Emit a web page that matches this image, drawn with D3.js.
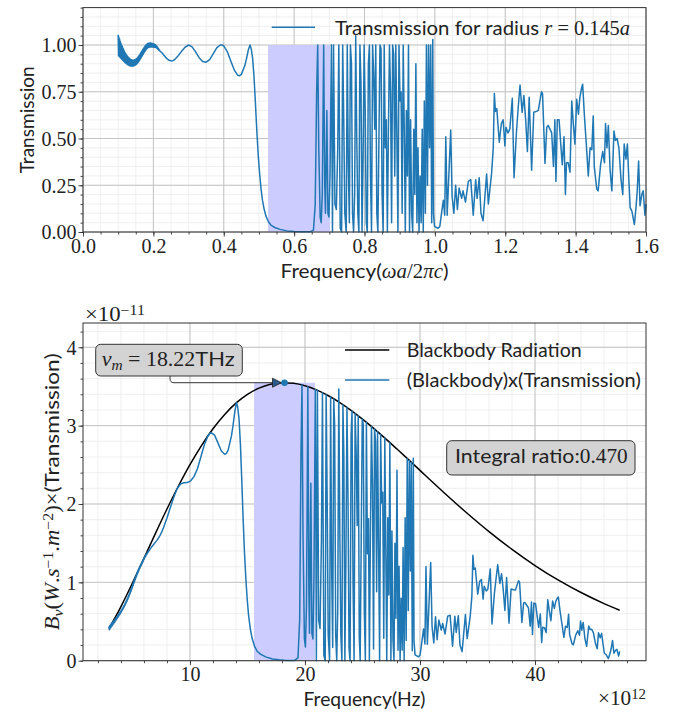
<!DOCTYPE html>
<html><head><meta charset="utf-8">
<script src="https://cdn.jsdelivr.net/npm/d3@7"></script>
<style>body{margin:0;background:#fff}svg{display:block}</style>
</head><body>
<svg id="c" width="673" height="712"></svg>
<script>
// ---------- DATA ----------
// top panel: transmission vs normalised frequency (omega a / 2 pi c)
const transmission = [
[0.100,1.055],[0.101,0.943],[0.102,1.043],[0.103,0.938],[0.104,1.032],[0.105,0.934],[0.106,1.020],[0.107,0.930],[0.108,1.010],[0.109,0.926],[0.110,1.000],[0.111,0.922],[0.112,0.992],[0.113,0.918],[0.114,0.982],[0.115,0.914],[0.116,0.974],[0.117,0.910],[0.118,0.967],[0.119,0.907],[0.120,0.959],[0.121,0.904],[0.122,0.953],[0.123,0.900],[0.124,0.947],[0.125,0.898],[0.126,0.941],[0.127,0.895],[0.128,0.937],[0.129,0.893],[0.130,0.932],[0.131,0.891],[0.132,0.929],[0.133,0.889],[0.134,0.925],[0.135,0.888],[0.136,0.923],[0.137,0.888],[0.138,0.921],[0.139,0.888],[0.140,0.919],[0.141,0.887],[0.142,0.919],[0.143,0.888],[0.144,0.919],[0.145,0.889],[0.146,0.920],[0.147,0.891],[0.148,0.922],[0.149,0.893],[0.150,0.924],[0.151,0.896],[0.152,0.928],[0.153,0.899],[0.154,0.931],[0.155,0.903],[0.156,0.936],[0.157,0.908],[0.158,0.941],[0.159,0.913],[0.160,0.946],[0.161,0.919],[0.162,0.952],[0.163,0.925],[0.164,0.958],[0.165,0.931],[0.166,0.964],[0.167,0.937],[0.168,0.971],[0.169,0.944],[0.170,0.977],[0.171,0.950],[0.172,0.983],[0.173,0.957],[0.174,0.988],[0.175,0.963],[0.176,0.994],[0.177,0.968],[0.178,0.998],[0.179,0.974],[0.180,1.003],[0.181,0.979],[0.182,1.006],[0.183,0.983],[0.184,1.008],[0.185,0.986],[0.186,1.010],[0.187,0.987],[0.188,1.010],[0.189,0.989],[0.190,1.011],[0.191,0.989],[0.192,1.011],[0.193,0.989],[0.194,1.009],[0.195,0.989],[0.196,1.009],[0.197,0.989],[0.198,1.007],[0.199,0.989],[0.200,1.007],[0.201,0.988],[0.202,1.005],[0.203,0.988],[0.204,1.003],[0.205,0.988],[0.206,1.001],[0.207,0.986],[0.208,0.997],[0.209,0.984],[0.210,0.993],[0.211,0.981],[0.212,0.988],[0.213,0.977],[0.214,0.982],[0.215,0.974],[0.216,0.978],[0.217,0.970],[0.218,0.972],[0.219,0.966],[0.220,0.965],
[0.225,0.957],[0.23,0.945],[0.235,0.934],[0.24,0.925],[0.245,0.918],[0.25,0.915],[0.255,0.916],[0.26,0.921],[0.27,0.941],[0.28,0.966],[0.29,0.988],[0.30,1.0],[0.31,0.99],[0.32,0.963],[0.33,0.932],[0.34,0.912],[0.35,0.908],[0.36,0.922],[0.37,0.952],[0.38,0.985],[0.39,1.0],[0.395,1.0],[0.40,0.995],[0.41,0.965],[0.42,0.915],[0.43,0.866],[0.44,0.838],[0.445,0.836],[0.45,0.843],[0.46,0.89],[0.465,0.93],[0.47,0.975],[0.4746,1.0],[0.478,0.98],[0.482,0.93],[0.486,0.83],[0.49,0.69],[0.494,0.54],[0.498,0.41],[0.502,0.31],[0.506,0.23],[0.51,0.17],[0.515,0.12],[0.52,0.085],[0.527,0.055],[0.535,0.035],[0.545,0.024],[0.56,0.014],[0.58,0.006],[0.6,0.003],[0.62,0.001],[0.645,0.001],[0.655,0.01],
[0.660,0.15],[0.664,0.75],[0.667,1.0],[0.670,0.45],[0.674,0.08],[0.677,0.05],[0.680,0.2],[0.684,1.0],[0.687,0.25],[0.689,0.1],[0.693,0.65],[0.696,0.1],[0.699,0.08],[0.702,0.3],[0.706,1.0],[0.709,0.0],[0.712,1.0],[0.716,0.15],[0.720,0.12],[0.724,0.45],[0.727,1.0],[0.731,0.02],[0.735,0.0],[0.738,1.0],[0.741,0.6],[0.744,0.1],[0.748,0.0],[0.751,1.0],[0.754,0.35],[0.757,0.05],[0.760,1.0],[0.763,0.9],[0.766,0.1],[0.769,0.0],[0.772,0.2],[0.775,1.05],[0.778,0.5],[0.781,0.1],[0.784,0.0],[0.787,1.0],[0.790,0.8],[0.793,0.0],[0.796,0.4],[0.799,1.0],[0.802,0.65],[0.805,0.05],[0.808,0.0],[0.811,0.9],[0.814,1.0],[0.817,0.3],[0.820,0.0],[0.823,1.0],[0.826,0.85],[0.829,0.55],[0.832,1.0],[0.835,0.1],[0.838,0.0],[0.841,0.5],[0.844,1.0],[0.847,0.98],[0.850,0.2],[0.853,0.0],[0.856,1.0],[0.859,0.45],[0.862,0.6],[0.865,0.0],[0.868,0.55],[0.871,1.0],[0.874,0.75],[0.877,0.05],[0.880,1.0],[0.883,0.95],[0.886,0.3],[0.889,1.0],[0.892,0.5],[0.895,0.0],[0.898,1.0],[0.901,0.7],[0.904,0.75],[0.907,0.1],[0.910,1.0],[0.913,0.55],[0.916,0.0],[0.919,0.65],[0.922,0.3],[0.925,1.0],[0.928,0.0],[0.931,0.6],[0.934,0.1],[0.937,0.0],[0.940,0.55],[0.943,0.2],[0.946,0.9],[0.949,0.05],[0.952,0.45],[0.955,0.0],[0.958,0.3],[0.961,0.05],[0.964,0.55],[0.967,0.0],[0.970,0.7],[0.973,0.1],[0.976,1.0],[0.979,0.25],[0.982,1.0],[0.985,0.45],[0.988,1.0],[0.991,0.05],[0.994,1.03],[0.996,0.1],[0.999,0.03],
[1.009,0.02],[1.014,0.03],[1.024,0.17],[1.028,0.09],[1.031,0.51],[1.035,0.09],[1.045,0.545],[1.049,0.19],[1.054,0.1],[1.059,0.25],[1.064,0.12],[1.069,0.235],[1.076,0.18],[1.080,0.22],[1.087,0.16],[1.095,0.27],[1.102,0.28],[1.109,0.09],[1.116,0.28],[1.120,0.18],[1.126,0.29],[1.131,0.1],[1.137,0.06],[1.147,0.31],[1.152,0.15],[1.161,0.31],[1.166,0.45],[1.169,0.74],[1.172,0.645],[1.176,0.66],[1.183,0.48],[1.189,0.58],[1.194,0.6],[1.199,0.46],[1.202,0.56],[1.208,0.53],[1.213,0.55],[1.220,0.715],[1.225,0.29],[1.232,0.54],[1.237,0.67],[1.242,0.786],[1.248,0.64],[1.253,0.73],[1.258,0.6],[1.263,0.43],[1.268,0.72],[1.275,0.33],[1.281,0.64],[1.289,0.645],[1.294,0.65],[1.299,0.706],[1.303,0.75],[1.306,0.74],[1.313,0.367],[1.318,0.56],[1.322,0.57],[1.327,0.55],[1.332,0.53],[1.337,0.35],[1.341,0.6],[1.344,0.27],[1.348,0.6],[1.353,0.6],[1.357,0.49],[1.362,0.36],[1.367,0.51],[1.371,0.2],[1.374,0.37],[1.379,0.37],[1.384,0.32],[1.389,0.7],[1.393,0.59],[1.398,0.47],[1.403,0.71],[1.408,0.63],[1.412,0.72],[1.417,0.77],[1.420,0.79],[1.425,0.62],[1.431,0.45],[1.436,0.3],[1.441,0.45],[1.446,0.44],[1.450,0.62],[1.453,0.35],[1.460,0.23],[1.464,0.22],[1.471,0.36],[1.477,0.43],[1.482,0.37],[1.485,0.58],[1.489,0.45],[1.493,0.57],[1.498,0.33],[1.503,0.22],[1.509,0.54],[1.513,0.49],[1.518,0.5],[1.523,0.45],[1.529,0.28],[1.534,0.2],[1.538,0.47],[1.543,0.39],[1.547,0.47],[1.551,0.29],[1.555,0.13],[1.560,0.11],[1.567,0.04],[1.572,0.14],[1.575,0.22],[1.579,0.38],[1.583,0.14],[1.588,0.2],[1.592,0.22],[1.597,0.09],[1.600,0.15]
];
// bottom panel: blackbody spectral radiance (units of 1e-11) vs frequency in THz
const blackbody = [
[2.96,0.413],[3,0.423],[3.5,0.552],[4,0.691],[4.5,0.838],[5,0.991],[5.5,1.148],[6,1.306],[6.5,1.466],[7,1.625],[8,1.936],[9,2.230],[10,2.502],[11,2.746],[12,2.960],[13,3.140],[14,3.287],[15,3.399],[16,3.479],[17,3.529],[18,3.549],[19,3.541],[20,3.510],[21,3.457],[22,3.385],[23,3.298],[24,3.196],[25,3.083],[26,2.962],[27,2.834],[28,2.701],[29,2.566],[30,2.429],[32,2.157],[34,1.895],[36,1.648],[38,1.421],[40,1.215],[42,1.031],[44,0.870],[46,0.729],[47.36,0.644]
];
// bottom panel: blackbody x transmission (units of 1e-11) vs frequency in THz
const transmitted = [
[2.960,0.436],[2.990,0.396],[3.019,0.446],[3.049,0.409],[3.078,0.457],[3.108,0.421],[3.138,0.467],[3.167,0.433],[3.197,0.479],[3.226,0.445],[3.256,0.489],[3.286,0.458],[3.315,0.500],[3.345,0.470],[3.374,0.510],[3.404,0.482],[3.434,0.521],[3.463,0.493],[3.493,0.532],[3.522,0.506],[3.552,0.543],[3.582,0.520],[3.611,0.556],[3.641,0.532],[3.670,0.567],[3.700,0.546],[3.730,0.580],[3.759,0.558],[3.789,0.592],[3.818,0.572],[3.848,0.605],[3.878,0.585],[3.907,0.618],[3.937,0.598],[3.966,0.631],[3.996,0.613],[4.026,0.645],[4.055,0.628],[4.085,0.659],[4.114,0.644],[4.144,0.674],[4.174,0.658],[4.203,0.690],[4.233,0.675],[4.262,0.706],[4.292,0.691],[4.322,0.723],[4.351,0.708],[4.381,0.740],[4.410,0.725],[4.440,0.759],[4.470,0.744],[4.499,0.778],[4.529,0.761],[4.558,0.797],[4.588,0.781],[4.618,0.818],[4.647,0.802],[4.677,0.839],[4.706,0.823],[4.736,0.861],[4.766,0.845],[4.795,0.883],[4.825,0.867],[4.854,0.906],[4.884,0.889],[4.914,0.929],[4.943,0.912],[4.973,0.954],[5.002,0.936],[5.032,0.978],[5.062,0.960],[5.091,1.002],[5.121,0.985],[5.150,1.026],[5.180,1.008],[5.210,1.051],[5.239,1.032],[5.269,1.073],[5.298,1.056],[5.328,1.097],[5.358,1.080],[5.387,1.119],[5.417,1.103],[5.446,1.140],[5.476,1.124],[5.506,1.162],[5.535,1.144],[5.565,1.180],[5.594,1.165],[5.624,1.200],[5.654,1.183],[5.683,1.219],[5.713,1.202],[5.742,1.235],[5.772,1.220],[5.802,1.254],[5.831,1.238],[5.861,1.271],[5.890,1.257],[5.920,1.290],[5.950,1.275],[5.979,1.305],[6.009,1.293],[6.038,1.322],[6.068,1.312],[6.098,1.338],[6.127,1.327],[6.157,1.352],[6.186,1.343],[6.216,1.365],[6.246,1.358],[6.275,1.376],[6.305,1.371],[6.334,1.387],[6.364,1.385],[6.394,1.400],[6.423,1.398],[6.453,1.409],[6.482,1.410],[6.512,1.418],
[6.66,1.452],[6.808,1.478],[6.956,1.505],[7.104,1.533],[7.252,1.563],[7.40,1.600],[7.548,1.644],[7.696,1.696],[7.992,1.819],[8.288,1.952],[8.584,2.083],[8.88,2.195],[9.176,2.255],[9.472,2.271],[9.768,2.273],[10.064,2.296],[10.36,2.352],[10.656,2.454],[10.952,2.603],[11.248,2.757],[11.544,2.862],[11.692,2.894],[11.84,2.911],[12.136,2.880],[12.432,2.780],[12.728,2.677],[13.024,2.634],[13.172,2.646],[13.32,2.687],[13.616,2.875],[13.764,3.024],[13.912,3.192],[14.048,3.294],[14.149,3.238],[14.267,3.085],[14.386,2.764],[14.504,2.307],[14.622,1.813],[14.741,1.382],[14.859,1.049],[14.978,0.781],[15.096,0.579],[15.244,0.410],[15.392,0.292],[15.60,0.190],[15.836,0.121],[16.13,0.084],[16.58,0.049],[17.17,0.021],[17.76,0.011],[18.35,0.004],[19.09,0.004],[19.39,0.035],
[19.54,0.529],[19.65,2.64],[19.74,3.518],[19.83,1.582],[19.95,0.281],[20.04,0.175],[20.13,0.701],[20.25,3.497],[20.34,0.873],[20.39,0.349],[20.51,2.264],[20.60,0.348],[20.69,0.278],[20.78,1.041],[20.90,3.462],[20.99,0.0],[21.08,3.451],[21.19,0.516],[21.31,0.412],[21.43,1.542],[21.52,3.42],[21.64,0.068],[21.76,0.0],[21.84,3.396],[21.93,2.034],[22.02,0.338],[22.14,0.0],[22.23,3.365],[22.32,1.175],[22.41,0.167],[22.50,3.341],[22.58,3.001],[22.67,0.333],[22.76,0.0],[22.85,0.662],[22.94,3.468],[23.03,1.648],[23.12,0.329],[23.21,0.0],[23.30,3.268],[23.38,2.607],[23.47,0.0],[23.56,1.296],[23.65,3.232],[23.74,2.094],[23.83,0.161],[23.92,0.0],[24.01,2.876],[24.09,3.186],[24.18,0.953],[24.27,0.0],[24.36,3.156],[24.45,2.673],[24.54,1.724],[24.63,3.125],[24.72,0.312],[24.80,0.0],[24.89,1.548],[24.98,3.085],[25.07,3.014],[25.16,0.613],[25.25,0.0],[25.34,3.042],[25.43,1.364],[25.52,1.812],[25.60,0.0],[25.69,1.649],[25.78,2.988],[25.87,2.233],[25.96,0.148],[26.05,2.956],[26.14,2.797],[26.23,0.880],[26.31,2.922],[26.40,1.456],[26.49,0.0],[26.58,2.888],[26.67,2.013],[26.76,2.149],[26.85,0.285],[26.94,2.842],[27.02,1.557],[27.11,0.0],[27.20,1.825],[27.29,0.839],[27.38,2.783],[27.47,0.0],[27.56,1.655],[27.65,0.275],[27.74,0.0],[27.82,1.499],[27.91,0.543],[28.00,2.431],[28.09,0.134],[28.18,1.205],[28.27,0.0],[28.36,0.796],[28.45,0.132],[28.53,1.446],[28.62,0.0],[28.71,1.824],[28.80,0.259],[28.89,2.58],[28.98,0.642],[29.07,2.556],[29.16,1.145],[29.24,2.533],[29.33,0.126],[29.42,2.583],[29.48,0.25],[29.57,0.075],
[29.87,0.049],[30.01,0.073],[30.31,0.406],[30.43,0.213],[30.52,1.202],[30.64,0.211],[30.93,1.254],[31.05,0.434],[31.20,0.227],[31.35,0.561],[31.49,0.267],[31.64,0.518],[31.85,0.392],[31.97,0.475],[32.18,0.341],[32.41,0.568],[32.62,0.581],[32.83,0.184],[33.03,0.566],[33.15,0.361],[33.33,0.575],[33.48,0.196],[33.66,0.116],[33.95,0.589],[34.10,0.282],[34.37,0.573],[34.51,0.824],[34.60,1.347],[34.69,1.166],[34.81,1.183],[35.02,0.848],[35.19,1.013],[35.34,1.036],[35.49,0.786],[35.58,0.951],[35.76,0.889],[35.90,0.913],[36.11,1.169],[36.26,0.469],[36.47,0.860],[36.62,1.056],[36.76,1.226],[36.94,0.985],[37.09,1.111],[37.24,0.903],[37.38,0.640],[37.53,1.061],[37.74,0.479],[37.92,0.915],[38.15,0.906],[38.30,0.903],[38.45,0.969],[38.57,1.021],[38.66,0.999],[38.86,0.488],[39.01,0.736],[39.13,0.742],[39.28,0.708],[39.43,0.674],[39.58,0.440],[39.69,0.748],[39.78,0.334],[39.90,0.735],[40.05,0.726],[40.17,0.588],[40.32,0.426],[40.46,0.597],[40.58,0.232],[40.67,0.426],[40.82,0.421],[40.97,0.359],[41.11,0.777],[41.23,0.648],[41.38,0.510],[41.53,0.762],[41.68,0.667],[41.80,0.755],[41.94,0.798],[42.03,0.813],[42.18,0.630],[42.36,0.450],[42.51,0.296],[42.65,0.439],[42.80,0.424],[42.92,0.592],[43.01,0.331],[43.22,0.214],[43.33,0.203],[43.54,0.326],[43.72,0.383],[43.87,0.326],[43.96,0.506],[44.07,0.389],[44.19,0.488],[44.34,0.279],[44.49,0.183],[44.67,0.443],[44.78,0.398],[44.93,0.401],[45.08,0.356],[45.26,0.218],[45.41,0.154],[45.52,0.358],[45.67,0.293],[45.79,0.349],[45.91,0.213],[46.03,0.095],[46.18,0.079],[46.38,0.028],[46.53,0.097],[46.62,0.152],[46.74,0.259],[46.86,0.095],[47.00,0.133],[47.12,0.145],[47.27,0.059],[47.36,0.12]
];
const topXTicks = [0, 0.2, 0.4, 0.6, 0.8, 1.0, 1.2, 1.4, 1.6];
const topYTicks = [0, 0.25, 0.5, 0.75, 1.0];
const botXTicks = [10, 20, 30, 40];
const botYTicks = [0, 1, 2, 3, 4];
const bandGapTop = [0.526, 0.702];       // normalised frequency
const bandGapBottom = [15.57, 20.87];     // THz
const peakFreq = 18.22, peakValue = 3.548;
const integralRatio = "0.470";

// ---------- LAYOUT ----------
const SERIF = "'Liberation Serif','DejaVu Serif',serif";
const SANS = "Lato,'Liberation Sans',sans-serif";
const INK = "#222";
const BLUE = "#1f77b4";
const svg = d3.select("#c");

const xT = d3.scaleLinear([0, 1.6], [83, 646]);
const yT = d3.scaleLinear([0, 1.2], [232, 7.6]);
const xB = d3.scaleLinear([0.7, 49.65], [83, 646]);
const yB = d3.scaleLinear([0, 4.31], [660.7, 323]);

function fit(t, w) {
  const L = t.node().getComputedTextLength();
  if (L > 0 && Math.abs(L - w) / w > 0.015) t.attr("textLength", w).attr("lengthAdjust", "spacingAndGlyphs");
}
function span(t, txt, fam, opts = {}) {
  const s = t.append("tspan").text(txt).attr("font-family", fam);
  if (opts.italic) s.attr("font-style", "italic");
  if (opts.size) s.attr("font-size", opts.size);
  if (opts.dy) s.attr("dy", opts.dy);
  return s;
}

function panel(x, y, xMinor, yMinor, xMajor, yMajor) {
  const [x0, x1] = x.range(), [y0, y1] = y.range();
  const g = svg.append("g");
  g.append("g").selectAll("line").data(xMinor).join("line")
    .attr("x1", d => x(d)).attr("x2", d => x(d)).attr("y1", y0).attr("y2", y1)
    .attr("stroke", "#ebebeb").attr("stroke-width", 0.8);
  g.append("g").selectAll("line").data(yMinor).join("line")
    .attr("y1", d => y(d)).attr("y2", d => y(d)).attr("x1", x0).attr("x2", x1)
    .attr("stroke", "#ebebeb").attr("stroke-width", 0.8);
  g.append("g").selectAll("line").data(xMajor).join("line")
    .attr("x1", d => x(d)).attr("x2", d => x(d)).attr("y1", y0).attr("y2", y1)
    .attr("stroke", "#c4c4c4").attr("stroke-width", 1);
  g.append("g").selectAll("line").data(yMajor).join("line")
    .attr("y1", d => y(d)).attr("y2", d => y(d)).attr("x1", x0).attr("x2", x1)
    .attr("stroke", "#c4c4c4").attr("stroke-width", 1);
  return g;
}
function axes(x, y, xMinor, yMinor, xMajor, yMajor, xFmt, yFmt) {
  const [x0, x1] = x.range(), [y0, y1] = y.range();
  const style = a => {
    a.select(".domain").remove();
    a.selectAll(".tick line").attr("stroke", "#333").attr("stroke-width", 0.9);
    a.selectAll(".tick text").attr("font-family", SERIF).attr("font-size", 20).attr("fill", INK);
  };
  svg.append("g").attr("transform", `translate(0,${y0})`)
    .call(d3.axisBottom(x).tickValues(xMinor).tickFormat(() => "").tickSize(2.5)).call(style);
  svg.append("g").attr("transform", `translate(${x0},0)`)
    .call(d3.axisLeft(y).tickValues(yMinor).tickFormat(() => "").tickSize(2.5)).call(style);
  svg.append("g").attr("transform", `translate(0,${y0})`)
    .call(d3.axisBottom(x).tickValues(xMajor).tickFormat(xFmt).tickSize(4.5).tickPadding(2)).call(style);
  svg.append("g").attr("transform", `translate(${x0},0)`)
    .call(d3.axisLeft(y).tickValues(yMajor).tickFormat(yFmt).tickSize(4.5).tickPadding(2)).call(style)
    .selectAll(".tick text").attr("dy", "0.34em");
  svg.append("rect").attr("x", x0).attr("y", y1).attr("width", x1 - x0).attr("height", y0 - y1)
    .attr("fill", "none").attr("stroke", "#333").attr("stroke-width", 1);
}

// ---------- TOP PANEL ----------
const tXMinor = d3.range(0, 1.6001, 0.05), tYMinor = d3.range(0, 1.2001, 0.05);
panel(xT, yT, tXMinor, tYMinor, topXTicks, topYTicks);
svg.append("rect").attr("x", xT(bandGapTop[0])).attr("y", yT(1.0))
  .attr("width", xT(bandGapTop[1]) - xT(bandGapTop[0])).attr("height", yT(0) - yT(1.0))
  .attr("fill", "#ccccff");
svg.append("path").datum(transmission)
  .attr("d", d3.line().x(d => xT(d[0])).y(d => yT(d[1])))
  .attr("fill", "none").attr("stroke", BLUE).attr("stroke-width", 1.5).attr("stroke-linejoin", "round");
axes(xT, yT, tXMinor, tYMinor, topXTicks, topYTicks, d3.format(".1f"), d3.format(".2f"));

// legend (top)
svg.append("line").attr("x1", 271.7).attr("x2", 315).attr("y1", 27.3).attr("y2", 27.3)
  .attr("stroke", BLUE).attr("stroke-width", 1.5);
{
  const t = svg.append("text").attr("x", 335).attr("y", 35).attr("font-size", 20).attr("fill", INK);
  span(t, "Transmission for radius ", SANS);
  span(t, "r", SERIF, {italic: true});
  span(t, " = 0.145", SERIF);
  span(t, "a", SERIF, {italic: true});
  fit(t, 295);
}
// x label (top)
{
  const t = svg.append("text").attr("x", 364.5).attr("y", 278).attr("text-anchor", "middle").attr("font-size", 20).attr("fill", INK);
  span(t, "Frequency(", SANS);
  span(t, "ωa", SERIF, {italic: true});
  span(t, "/2", SERIF);
  span(t, "πc", SERIF, {italic: true});
  span(t, ")", SANS);
  fit(t, 168);
}
// y label (top)
{
  const t = svg.append("text").attr("transform", "translate(34,119.8) rotate(-90)")
    .attr("text-anchor", "middle").attr("font-size", 20).attr("fill", INK).attr("font-family", SANS).text("Transmission");
  fit(t, 107);
}

// ---------- BOTTOM PANEL ----------
const bXMinor = d3.range(2, 49, 2), bYMinor = d3.range(0, 4.31, 0.2);
panel(xB, yB, bXMinor, bYMinor, botXTicks, botYTicks);
svg.append("rect").attr("x", xB(bandGapBottom[0])).attr("y", yB(peakValue))
  .attr("width", xB(bandGapBottom[1]) - xB(bandGapBottom[0])).attr("height", yB(0) - yB(peakValue))
  .attr("fill", "#ccccff");
svg.append("path").datum(blackbody)
  .attr("d", d3.line().curve(d3.curveMonotoneX).x(d => xB(d[0])).y(d => yB(d[1])))
  .attr("fill", "none").attr("stroke", "#000").attr("stroke-width", 1.5);
svg.append("path").datum(transmitted)
  .attr("d", d3.line().x(d => xB(d[0])).y(d => yB(d[1])))
  .attr("fill", "none").attr("stroke", BLUE).attr("stroke-width", 1.5).attr("stroke-linejoin", "round");
axes(xB, yB, bXMinor, bYMinor, botXTicks, botYTicks, d3.format("d"), d3.format("d"));

// peak marker + annotation
const px = xB(peakFreq), py = yB(peakValue);
svg.append("path")
  .attr("d", `M170,376 L170,378.7 Q170,${py} 174,${py} L${px - 11},${py}`)
  .attr("fill", "none").attr("stroke", "#333").attr("stroke-width", 1);
svg.append("path")
  .attr("d", `M${px - 12},${py - 4.5} L${px - 3},${py} L${px - 12},${py + 4.5} Z`)
  .attr("fill", "#2b5d8c").attr("stroke", "#222").attr("stroke-width", 0.8);
svg.append("circle").attr("cx", px).attr("cy", py).attr("r", 3.3).attr("fill", BLUE);
svg.append("rect").attr("x", 95.7).attr("y", 344.3).attr("width", 146.6).attr("height", 31.7).attr("rx", 5)
  .attr("fill", "#d3d3d3").attr("stroke", "#333").attr("stroke-width", 1);
{
  const t = svg.append("text").attr("x", 101.7).attr("y", 366).attr("font-size", 20).attr("fill", INK);
  span(t, "ν", SERIF, {italic: true});
  span(t, "m", SERIF, {italic: true, size: 14, dy: "0.3em"});
  span(t, " = 18.22", SERIF, {dy: "-0.21em"});
  span(t, "THz", SANS);
  fit(t, 133);
}
// integral ratio box
svg.append("rect").attr("x", 446.7).attr("y", 440.7).attr("width", 188.3).attr("height", 34.3).attr("rx", 5)
  .attr("fill", "#d3d3d3").attr("stroke", "#333").attr("stroke-width", 1);
{
  const t = svg.append("text").attr("x", 455).attr("y", 463.3).attr("font-size", 20).attr("fill", INK);
  span(t, "Integral ratio:", SANS);
  span(t, integralRatio, SERIF);
  fit(t, 172.7);
}
// legend (bottom)
svg.append("line").attr("x1", 345).attr("x2", 389.3).attr("y1", 350).attr("y2", 350).attr("stroke", "#000").attr("stroke-width", 1.5);
svg.append("line").attr("x1", 345).attr("x2", 389.3).attr("y1", 380).attr("y2", 380).attr("stroke", BLUE).attr("stroke-width", 1.5);
{
  const t = svg.append("text").attr("x", 406.7).attr("y", 356.7).attr("font-size", 20).attr("fill", INK)
    .attr("font-family", SANS).text("Blackbody Radiation");
  fit(t, 175);
  const t2 = svg.append("text").attr("x", 406.7).attr("y", 386.5).attr("font-size", 20).attr("fill", INK)
    .attr("font-family", SANS).text("(Blackbody)x(Transmission)");
  fit(t2, 237);
}
// offset texts
{
  const t = svg.append("text").attr("x", 85).attr("y", 321).attr("font-size", 20).attr("fill", INK);
  span(t, "×10", SERIF);
  span(t, "−11", SERIF, {size: 14, dy: "-0.45em"});
  fit(t, 60);
  const t2 = svg.append("text").attr("x", 646).attr("y", 705).attr("text-anchor", "end").attr("font-size", 20).attr("fill", INK);
  span(t2, "×10", SERIF);
  span(t2, "12", SERIF, {size: 14, dy: "-0.45em"});
  fit(t2, 48);
}
// x label (bottom)
{
  const t = svg.append("text").attr("x", 364.5).attr("y", 706).attr("text-anchor", "middle").attr("font-size", 20)
    .attr("fill", INK).attr("font-family", SANS).text("Frequency(Hz)");
  fit(t, 122);
}
// y label (bottom)
{
  const t = svg.append("text").attr("transform", "translate(59,491.8) rotate(-90)")
    .attr("text-anchor", "middle").attr("font-size", 20).attr("fill", INK);
  span(t, "B", SERIF, {italic: true});
  span(t, "ν", SERIF, {italic: true, size: 14, dy: "0.3em"});
  span(t, "(", SERIF, {dy: "-0.21em"});
  span(t, "W", SERIF, {italic: true});
  span(t, ".", SERIF);
  span(t, "s", SERIF, {italic: true});
  span(t, "−1", SERIF, {size: 14, dy: "-0.45em"});
  span(t, ".", SERIF, {dy: "0.315em"});
  span(t, "m", SERIF, {italic: true});
  span(t, "−2", SERIF, {size: 14, dy: "-0.45em"});
  span(t, ")×", SERIF, {dy: "0.315em"});
  span(t, "(Transmission)", SANS);
  fit(t, 277);
}
</script>
</body></html>
